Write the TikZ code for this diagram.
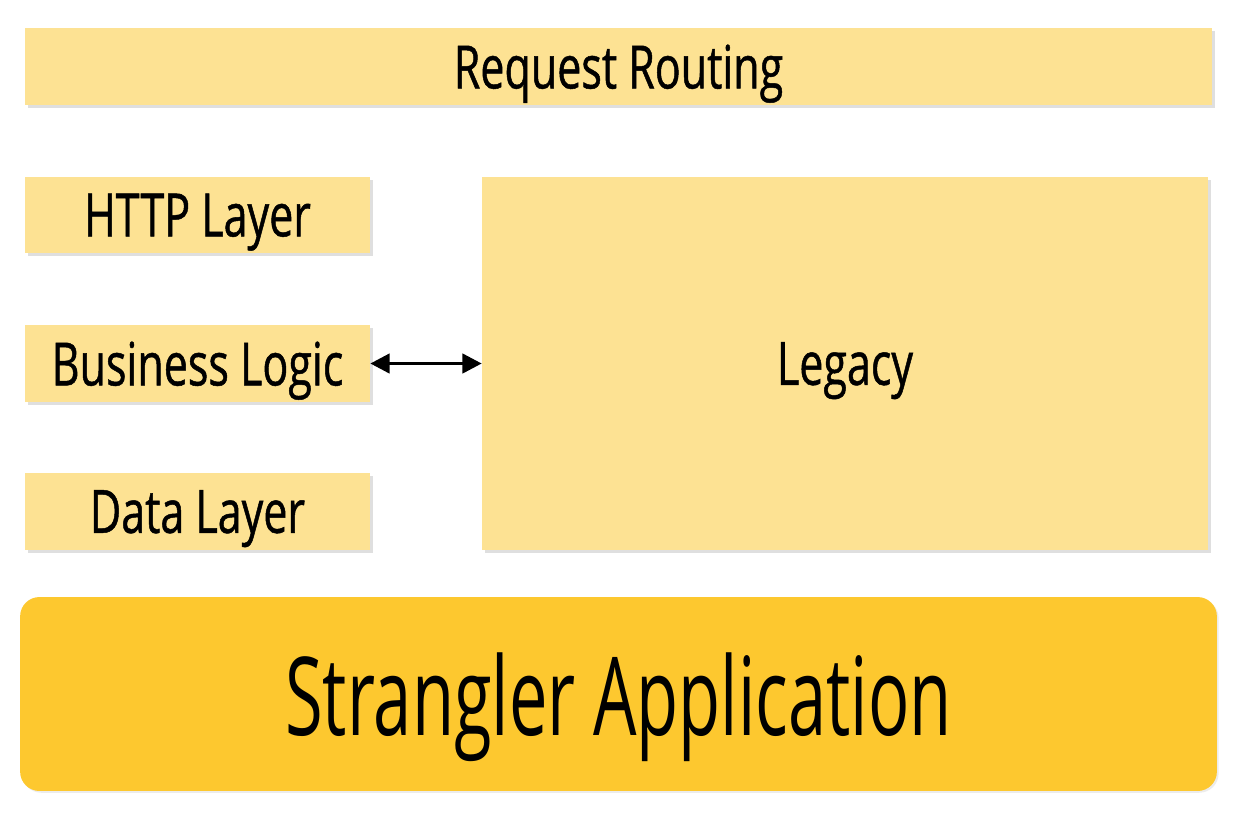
\documentclass[tikz,border=0pt]{standalone}
\usepackage{fontspec}
\setmainfont[FakeStretch=0.72]{Open Sans}
\newfontfamily\LayerFont[FakeStretch=0.72,FakeBold=0.8]{Open Sans}
\newfontfamily\BaseFont[FakeStretch=0.63]{Open Sans}
\usepackage{xcolor}
\definecolor{Col1}{RGB}{253,226,147}
\definecolor{Col2}{RGB}{253,200,47}
\usepackage{tikz}
\usetikzlibrary{shadows}
\usetikzlibrary{arrows.meta}
\tikzstyle{Layer}=[draw=none,fill=Col1,inner sep=0pt,text depth=0pt,
drop shadow={shadow xshift=1.5pt,shadow yshift=-1.5pt,opacity=.25},
font=\LayerFont\fontsize{34}{38}\selectfont]
\tikzstyle{Base}=[draw=none,fill=Col2,rounded corners=11pt,inner sep=0pt,text depth=0pt,
drop shadow={shadow xshift=1pt,shadow yshift=-1pt,opacity=.15},
font=\BaseFont\fontsize{62}{70}\selectfont]
\tikzstyle{Edge}=[draw=black,line width=2pt,{Triangle[length=11pt,width=11pt]}-{Triangle[length=11pt,width=11pt]}]
\begin{document}
\begin{tikzpicture}[x=0.02cm,y=-0.02cm]
            \useasboundingbox(0,0)rectangle(1244,816);
            \node[Layer,minimum width=23.74cm,minimum height=1.54cm]
                (routing)at(618.5,66.5){Request Routing};
            \node[Layer,minimum width=6.9cm,minimum height=1.52cm]
                (http)at(197.5,215){HTTP Layer};
            \node[Layer,minimum width=6.9cm,minimum height=1.54cm]
                (logic)at(197.5,363.5){Business Logic};
            \node[Layer,minimum width=6.9cm,minimum height=1.54cm]
                (data)at(197.5,511.5){Data Layer};
            \node[Layer,minimum width=14.52cm,minimum height=7.46cm]
                (legacy)at(845,363.5){Legacy};
            \node[Base,minimum width=23.94cm,minimum height=3.88cm]
                (strangler)at(618.5,694){Strangler Application};
            \draw[Edge](logic.east)--(legacy.west|-logic.east);
        \end{tikzpicture}
\end{document}
